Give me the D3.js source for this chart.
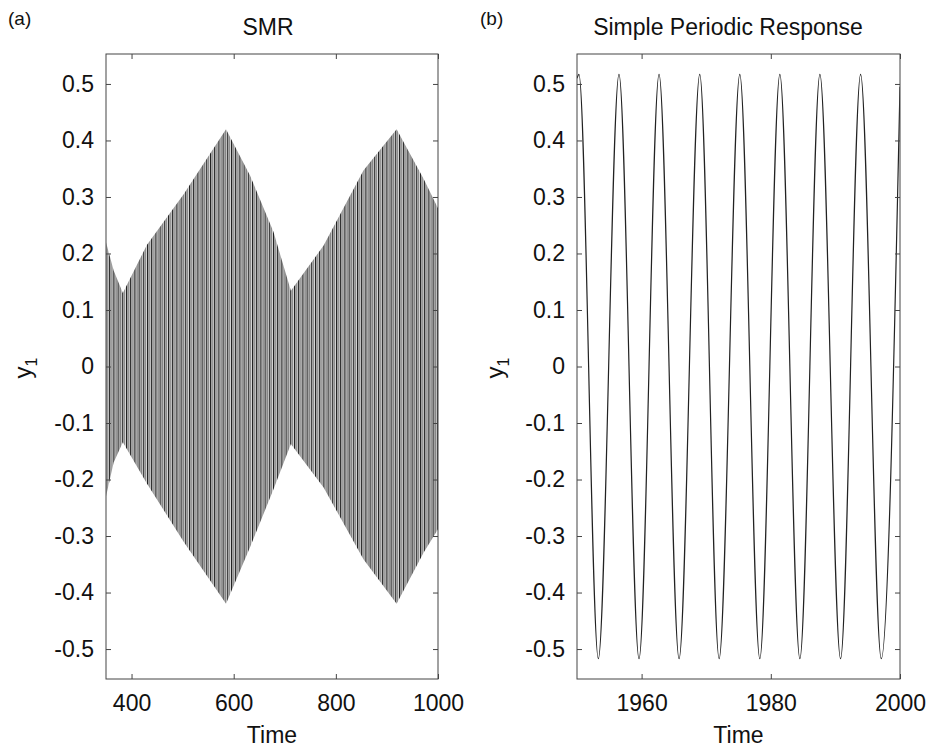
<!DOCTYPE html>
<html>
<head>
<meta charset="utf-8">
<script src="https://cdn.jsdelivr.net/npm/d3@7"></script>
<style>
  body { margin: 0; background: #fff; }
  text { font-family: "Liberation Sans", Arial, sans-serif; fill: #111; }
</style>
</head>
<body>
<script>
// (a) SMR: envelope of the fast oscillation
var smrTime  = [350, 365, 383, 430, 502, 585, 632, 678, 712, 776, 854, 919, 972, 1000];
var smrUpper = [0.22, 0.17, 0.13, 0.215, 0.305, 0.42, 0.338, 0.238, 0.134, 0.214, 0.347, 0.42, 0.332, 0.28];
var smrLower = [-0.23, -0.17, -0.134, -0.207, -0.31, -0.42, -0.32, -0.217, -0.137, -0.214, -0.341, -0.42, -0.329, -0.288];

// (b) simple periodic response: extrema of the sinusoid
var sprTime  = [1950, 1950.3, 1953.3, 1956.5, 1959.6, 1962.7, 1965.8, 1969.0, 1972.0, 1975.2,
                1978.3, 1981.4, 1984.5, 1987.6, 1990.8, 1993.9, 1997.1, 2000];
var sprValue = [0.51, 0.517, -0.517, 0.517, -0.517, 0.517, -0.517, 0.517, -0.517, 0.517,
                -0.517, 0.517, -0.517, 0.517, -0.517, 0.517, -0.517, 0.495];

var yTicks = [0.5, 0.4, 0.3, 0.2, 0.1, 0, -0.1, -0.2, -0.3, -0.4, -0.5];
var smrTicks = [400, 600, 800, 1000];
var sprTicks = [1960, 1980, 2000];

var svg = d3.select('body').append('svg').attr('width', 931).attr('height', 752);

var defs = svg.append('defs');
// dense oscillation rendered as stripes inside the envelope
var pat = defs.append('pattern').attr('id', 'osc')
  .attr('patternUnits', 'userSpaceOnUse').attr('width', 4.2).attr('height', 8);
pat.append('rect').attr('width', 4.2).attr('height', 8).attr('fill', '#dcdcdc');
pat.append('rect').attr('x', 0).attr('width', 1.1).attr('height', 8).attr('fill', '#161616');
pat.append('rect').attr('x', 2.1).attr('width', 1.1).attr('height', 8).attr('fill', '#707070');

var fmt = function(d) { return d === 0 ? '0' : d.toFixed(1); };

function panel(opts) {
  var x = d3.scaleLinear().domain(opts.xDomain).range([opts.left, opts.right]);
  var y = d3.scaleLinear().domain([-0.553, 0.553]).range([679, 54]);
  var g = svg.append('g');

  defs.append('clipPath').attr('id', opts.id + '-clip')
    .append('rect').attr('x', opts.left).attr('y', 54)
    .attr('width', opts.right - opts.left).attr('height', 625);

  var plot = g.append('g').attr('clip-path', 'url(#' + opts.id + '-clip)');
  opts.draw(plot, x, y);

  // inward ticks on all four sides, MATLAB style
  g.append('g').attr('transform', 'translate(0,679)')
    .call(d3.axisBottom(x).tickValues(opts.xTicks).tickSize(-5).tickPadding(16).tickFormat(d3.format('d')));
  g.append('g').attr('transform', 'translate(0,54)')
    .call(d3.axisTop(x).tickValues(opts.xTicks).tickSize(-5).tickFormat(''));
  g.append('g').attr('transform', 'translate(' + opts.left + ',0)')
    .call(d3.axisLeft(y).tickValues(yTicks).tickSize(-5).tickPadding(12).tickFormat(fmt));
  g.append('g').attr('transform', 'translate(' + opts.right + ',0)')
    .call(d3.axisRight(y).tickValues(yTicks).tickSize(-5).tickFormat(''));

  g.selectAll('.domain').remove();
  g.selectAll('.tick line').attr('stroke', '#444');
  g.selectAll('.tick text').attr('font-size', 23).attr('fill', '#111')
    .attr('font-family', '"Liberation Sans", Arial, sans-serif');

  g.append('rect').attr('x', opts.left).attr('y', 54)
    .attr('width', opts.right - opts.left).attr('height', 625)
    .attr('fill', 'none').attr('stroke', '#444').attr('stroke-width', 1);

  g.append('text').attr('x', opts.titleX).attr('y', 35)
    .attr('text-anchor', 'middle').attr('font-size', 23).text(opts.title);
  g.append('text').attr('x', opts.tagX).attr('y', 25).attr('font-size', 19).text(opts.tag);
  g.append('text').attr('x', (opts.left + opts.right) / 2).attr('y', 743)
    .attr('text-anchor', 'middle').attr('font-size', 23).text('Time');

  var yl = g.append('text')
    .attr('transform', 'translate(' + opts.yLabelX + ',368) rotate(-90)')
    .attr('text-anchor', 'middle').attr('font-size', 24);
  yl.append('tspan').text('y');
  yl.append('tspan').attr('font-size', 16).attr('dy', 6).text('1');
}

panel({
  id: 'a', tag: '(a)', tagX: 8, title: 'SMR', titleX: 268, yLabelX: 31,
  xDomain: [350, 1000], left: 106, right: 438, xTicks: smrTicks,
  draw: function(plot, x, y) {
    var env = smrTime.map(function(t, i) { return { t: t, hi: smrUpper[i], lo: smrLower[i] }; });
    plot.append('path').datum(env)
      .attr('fill', 'url(#osc)')
      .attr('d', d3.area().x(function(d) { return x(d.t); })
        .y0(function(d) { return y(d.lo); }).y1(function(d) { return y(d.hi); }));
  }
});

panel({
  id: 'b', tag: '(b)', tagX: 480, title: 'Simple Periodic Response', titleX: 728, yLabelX: 503,
  xDomain: [1950, 2000], left: 577, right: 900, xTicks: sprTicks,
  draw: function(plot, x, y) {
    var pts = sprTime.map(function(t, i) { return { t: t, v: sprValue[i] }; });
    plot.append('path').datum(pts)
      .attr('fill', 'none').attr('stroke', '#222').attr('stroke-width', 1.2)
      .attr('d', d3.line().x(function(d) { return x(d.t); }).y(function(d) { return y(d.v); })
        .curve(d3.curveMonotoneX));
  }
});
</script>
</body>
</html>
